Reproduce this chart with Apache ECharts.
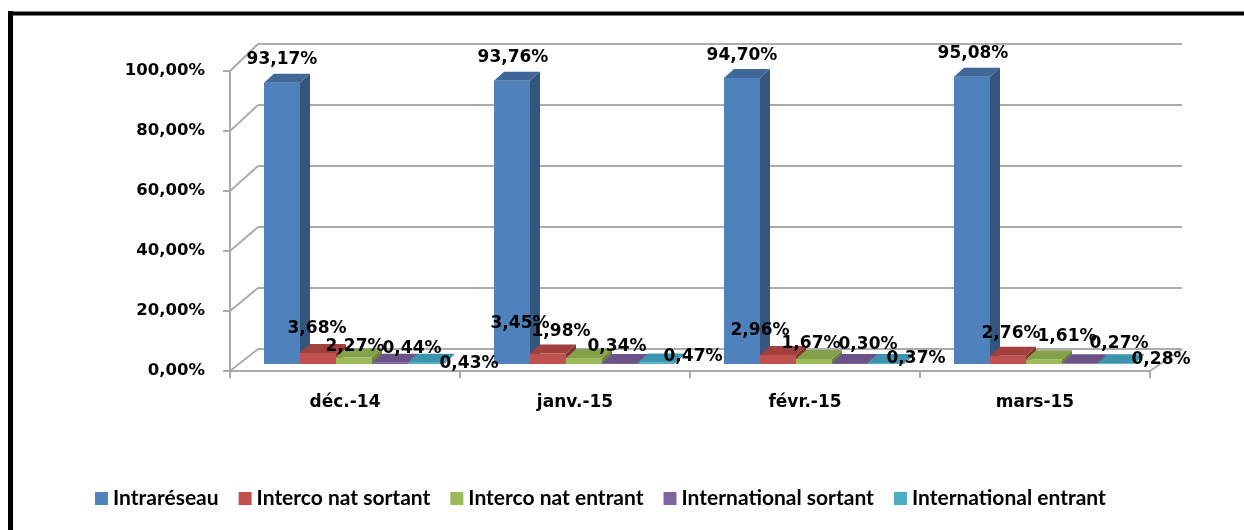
<!DOCTYPE html>
<html><head><meta charset="utf-8">
<script src="https://cdn.jsdelivr.net/npm/echarts@6/dist/echarts.min.js"></script>
<style>html,body{margin:0;padding:0;background:#fff}#c{width:1244px;height:530px}</style>
</head><body><div id="c"></div>
<script>
// ---- data ----
const categories = ['déc.-14', 'janv.-15', 'févr.-15', 'mars-15'];
const seriesNames = ['Intraréseau', 'Interco nat sortant', 'Interco nat entrant', 'International sortant', 'International entrant'];
const intrareseau = [93.17, 93.76, 94.70, 95.08];
const intercoNatSortant = [3.68, 3.45, 2.96, 2.76];
const intercoNatEntrant = [2.27, 1.98, 1.67, 1.61];
const internationalSortant = [0.44, 0.34, 0.30, 0.27];
const internationalEntrant = [0.43, 0.47, 0.37, 0.28];
const yTicks = [0, 20, 40, 60, 80, 100];

const seriesValues = [intrareseau, intercoNatSortant, intercoNatEntrant, internationalSortant, internationalEntrant];

// ---- style ----
const faceColors = ['#4F81BD', '#C0504D', '#9BBB59', '#8064A2', '#4BACC6'];
const sideColors = ['#34557E', '#84322F', '#6D8638', '#574271', '#2F7D92'];
const topColors  = ['#3F6898', '#A2403D', '#84A04A', '#6B5289', '#3C95AE'];
// label nudges (px) relative to default label spot, per series per category
const labelNudge = [
  [[0, 0], [1, 0], [0, 1], [1, 0]],
  [[-1, -1], [-28, -7], [-18, -1], [3, 1]],
  [[1, 12], [-23, -3], [-3, 8], [23, 0]],
  [[22, 9], [-3, 7], [18, 4], [39, 3]],
  [[43, 24], [37, 17], [30, 19], [45, 19]]
];
const LABEL_FONT = 'bold 17px "DejaVu Sans"';
const DEPTH = [10, -9];
const BAR_FRAC = 36 / 230;
const GRID_COLOR = '#ABABAB';

function fmt(v) { return v.toFixed(2).replace('.', ',') + '%'; }

function makeRender(s) {
  return function (params, api) {
    const c = api.value(0), v = api.value(1);
    const top = api.coord([c, v]);
    const base = api.coord([c, 0]);
    const cw = api.size([1, 0])[0];
    const bw = cw * BAR_FRAC;
    const n = seriesValues.length;
    const x0 = top[0] - bw * n / 2 + s * bw;
    const x1 = x0 + bw;
    const yt = top[1], yb = base[1];
    const dx = DEPTH[0], dy = DEPTH[1];
    const nud = labelNudge[s][c];
    return {
      type: 'group',
      children: [
        { type: 'polygon', shape: { points: [[x1, yt], [x1 + dx, yt + dy], [x1 + dx, yb + dy], [x1, yb]] }, style: { fill: sideColors[s] }, z2: 1 },
        { type: 'rect', shape: { x: x0, y: yt, width: bw, height: yb - yt }, style: { fill: faceColors[s] }, z2: 1 },
        { type: 'polygon', shape: { points: [[x0, yt], [x0 + dx, yt + dy], [x1 + dx, yt + dy], [x1, yt]] }, style: { fill: topColors[s] }, z2: 1 },
        { type: 'text', x: (x0 + x1) / 2 + nud[0], y: yt - 23 + nud[1],
          style: { text: fmt(v), font: LABEL_FONT, fill: '#000', align: 'center', verticalAlign: 'middle' }, z2: 100 }
      ]
    };
  };
}

const chart = echarts.init(document.getElementById('c'));

const option = {
  animation: false,
  backgroundColor: '#fff',
  grid: [
    { left: 230, right: 94, top: 71, bottom: 159 },   // front plane
    { left: 239, right: 85, top: 62, bottom: 166 },   // bar plane
    { left: 258, right: 62, top: 44, bottom: 181 }    // back wall
  ],
  xAxis: [
    { type: 'category', gridIndex: 0, data: categories, boundaryGap: true,
      axisLine: { show: true, lineStyle: { color: GRID_COLOR, width: 2 } },
      axisTick: { show: true, length: 7, lineStyle: { color: GRID_COLOR, width: 2 } },
      axisLabel: { margin: 23, color: '#000', fontFamily: 'DejaVu Sans', fontWeight: 'bold', fontSize: 17 } },
    { type: 'category', gridIndex: 1, data: categories, show: false },
    { type: 'category', gridIndex: 2, data: categories, show: false }
  ],
  yAxis: [
    { type: 'value', gridIndex: 0, min: 0, max: 100, interval: 20,
      axisLine: { show: true, lineStyle: { color: GRID_COLOR, width: 2 } },
      axisTick: { show: true, length: 7, lineStyle: { color: GRID_COLOR, width: 2 } },
      splitLine: { show: false },
      axisLabel: { margin: 25, color: '#000', fontFamily: 'DejaVu Sans', fontWeight: 'bold', fontSize: 16.5,
        padding: [5, 0, 0, 0],
        formatter: function (v) { return v.toFixed(2).replace('.', ',') + '%'; } } },
    { type: 'value', gridIndex: 1, min: 0, max: 100, interval: 20, show: false, splitLine: { show: false } },
    { type: 'value', gridIndex: 2, min: 0, max: 100, interval: 20,
      axisLine: { show: false }, axisTick: { show: false }, axisLabel: { show: false },
      splitLine: { show: true, lineStyle: { color: GRID_COLOR, width: 2 } } }
  ],
  legend: {
    data: seriesNames, left: 90, top: 483, icon: 'rect', itemWidth: 13, itemHeight: 13, itemGap: 20,
    textStyle: { color: '#000', fontFamily: 'Lato', fontWeight: 'bold', fontSize: 21 }
  },
  series: seriesValues.map(function (vals, s) {
    return {
      type: 'custom', name: seriesNames[s], xAxisIndex: 1, yAxisIndex: 1,
      itemStyle: { color: faceColors[s] },
      encode: { x: 0, y: 1 },
      data: vals.map(function (v, i) { return [i, v]; }),
      renderItem: makeRender(s)
    };
  })
};
chart.setOption(option);

// side wall / floor edges computed from the library's scales
(function () {
  const n = categories.length;
  function edges(idx) {
    const c0 = chart.convertToPixel({ xAxisIndex: idx }, 0);
    const c1 = chart.convertToPixel({ xAxisIndex: idx }, 1);
    const w = c1 - c0;
    return { left: c0 - w / 2, right: c0 + w * (n - 0.5) };
  }
  const f = edges(0), b = edges(2);
  const els = [];
  yTicks.forEach(function (v) {
    const yf = chart.convertToPixel({ yAxisIndex: 0 }, v);
    const yb = chart.convertToPixel({ yAxisIndex: 2 }, v);
    els.push({ type: 'line', shape: { x1: f.left, y1: yf, x2: b.left, y2: yb }, style: { stroke: GRID_COLOR, lineWidth: 2 } });
  });
  const yf0 = chart.convertToPixel({ yAxisIndex: 0 }, 0);
  const yb0 = chart.convertToPixel({ yAxisIndex: 2 }, 0);
  els.push({ type: 'line', shape: { x1: f.right, y1: yf0, x2: b.right, y2: yb0 }, style: { stroke: GRID_COLOR, lineWidth: 2 } });
  // outer frame (left and top edges)
  els.push({ type: 'line', shape: { x1: 10.5, y1: 11, x2: 10.5, y2: 540 }, style: { stroke: '#000', lineWidth: 5 } });
  els.push({ type: 'line', shape: { x1: 8, y1: 13.5, x2: 1250, y2: 13.5 }, style: { stroke: '#000', lineWidth: 4 } });
  chart.setOption({ graphic: { elements: els } });
})();
</script>
</body></html>
